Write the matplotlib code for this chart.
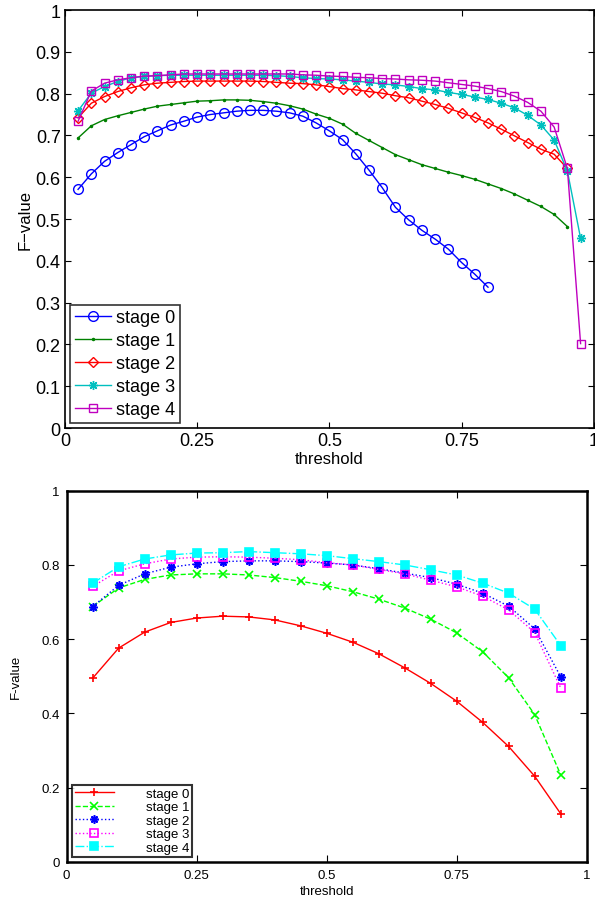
import matplotlib
matplotlib.use('Agg')
import matplotlib.pyplot as plt
import numpy as np

# top panel: thresholds 0.025 step
thr_top = np.arange(1, 40) * 0.025

top_s0 = [0.571, 0.608, 0.638, 0.659, 0.678, 0.697, 0.711, 0.725, 0.734, 0.744,
          0.750, 0.754, 0.758, 0.760, 0.760, 0.758, 0.754, 0.746, 0.730, 0.711,
          0.690, 0.656, 0.617, 0.575, 0.528, 0.498, 0.473, 0.452, 0.428, 0.396,
          0.368, 0.337]
top_s1 = [0.694, 0.723, 0.738, 0.747, 0.755, 0.763, 0.770, 0.774, 0.778, 0.782,
          0.783, 0.785, 0.785, 0.784, 0.781, 0.777, 0.771, 0.763, 0.751, 0.741,
          0.727, 0.705, 0.688, 0.671, 0.654, 0.642, 0.630, 0.621, 0.612, 0.604,
          0.595, 0.584, 0.573, 0.560, 0.545, 0.530, 0.511, 0.482]
top_s2 = [0.742, 0.777, 0.793, 0.805, 0.814, 0.821, 0.825, 0.827, 0.829, 0.830,
          0.830, 0.830, 0.830, 0.830, 0.829, 0.827, 0.825, 0.824, 0.821, 0.817,
          0.812, 0.809, 0.805, 0.801, 0.795, 0.790, 0.782, 0.774, 0.765, 0.754,
          0.743, 0.730, 0.715, 0.699, 0.683, 0.667, 0.655, 0.621]
top_s3 = [0.759, 0.801, 0.817, 0.829, 0.838, 0.841, 0.843, 0.844, 0.844, 0.844,
          0.844, 0.844, 0.844, 0.844, 0.844, 0.843, 0.841, 0.838, 0.836, 0.835,
          0.833, 0.830, 0.827, 0.823, 0.821, 0.817, 0.812, 0.809, 0.803, 0.798,
          0.792, 0.786, 0.777, 0.766, 0.748, 0.725, 0.689, 0.615, 0.454]
top_s4 = [0.734, 0.806, 0.825, 0.833, 0.838, 0.842, 0.843, 0.845, 0.847, 0.847,
          0.847, 0.847, 0.847, 0.847, 0.847, 0.847, 0.847, 0.845, 0.844, 0.842,
          0.841, 0.839, 0.838, 0.836, 0.835, 0.833, 0.832, 0.830, 0.826, 0.822,
          0.818, 0.812, 0.805, 0.794, 0.779, 0.758, 0.720, 0.621, 0.202]

# bottom panel: thresholds 0.05 step
thr_bot = np.arange(1, 20) * 0.05

bot_s0 = [0.495, 0.576, 0.619, 0.645, 0.657, 0.662, 0.660, 0.652, 0.636, 0.616,
          0.592, 0.561, 0.523, 0.481, 0.433, 0.376, 0.311, 0.231, 0.130]
bot_s1 = [0.688, 0.738, 0.761, 0.773, 0.776, 0.776, 0.773, 0.766, 0.756, 0.744,
          0.728, 0.708, 0.684, 0.654, 0.617, 0.566, 0.496, 0.397, 0.235]
bot_s2 = [0.688, 0.745, 0.776, 0.794, 0.803, 0.809, 0.811, 0.811, 0.809, 0.805,
          0.800, 0.790, 0.778, 0.766, 0.748, 0.724, 0.689, 0.628, 0.499]
bot_s3 = [0.742, 0.784, 0.803, 0.816, 0.821, 0.822, 0.821, 0.818, 0.814, 0.806,
          0.800, 0.788, 0.776, 0.759, 0.741, 0.716, 0.679, 0.618, 0.469]
bot_s4 = [0.751, 0.795, 0.816, 0.827, 0.832, 0.833, 0.836, 0.833, 0.830, 0.825,
          0.817, 0.809, 0.800, 0.787, 0.773, 0.751, 0.724, 0.681, 0.583]

labels = ['stage 0', 'stage 1', 'stage 2', 'stage 3', 'stage 4']
x_ticks = [0, 0.25, 0.5, 0.75, 1]
x_ticklabels = ['0', '0.25', '0.5', '0.75', '1']

plt.rcParams['font.family'] = ['Liberation Sans', 'DejaVu Sans']

fig = plt.figure(figsize=(5.95, 9.04), dpi=100)
asterisk = (8, 2, 0)

# ---- top ----
ax1 = fig.add_axes([0.109, 0.5254, 0.889, 0.4624])
top_data = [top_s0, top_s1, top_s2, top_s3, top_s4]
top_col = ['#0000ff', '#008000', '#ff0000', '#00bfbf', '#bf00bf']
top_mk = ['o', '.', 'D', asterisk, 's']
top_ms = [7, 3, 5.5, 6.5, 6]
for d, c, m, ms, lab in zip(top_data, top_col, top_mk, top_ms, labels):
    ax1.plot(thr_top[:len(d)], d, color=c, marker=m, markersize=ms,
             markerfacecolor=c if m == '.' else 'none', markeredgecolor=c,
             linewidth=1, markeredgewidth=1, label=lab)
ax1.set_xlim(0, 1)
ax1.set_ylim(0, 1)
ax1.set_xticks(x_ticks)
ax1.set_xticklabels(x_ticklabels)
ax1.set_yticks(np.arange(0, 11) / 10)
ax1.set_yticklabels(['0', '0.1', '0.2', '0.3', '0.4', '0.5', '0.6', '0.7', '0.8', '0.9', '1'])
ax1.tick_params(direction='in', top=True, right=True, labelsize=13, length=4, pad=3)
ax1.set_xlabel('threshold', fontsize=12, labelpad=1)
ax1.set_ylabel('F\u2212value', fontsize=12, labelpad=2)
for sp in ax1.spines.values():
    sp.set_linewidth(1.2)
leg1 = ax1.legend(loc='lower left', fontsize=13, frameon=True, fancybox=False,
                  edgecolor='black', borderpad=0.25, labelspacing=0.33,
                  handlelength=2.0, handletextpad=0.3, borderaxespad=0.3)
leg1.get_frame().set_linewidth(1.2)

# ---- bottom ----
ax2 = fig.add_axes([0.112, 0.0454, 0.874, 0.4107])
bot_data = [bot_s0, bot_s1, bot_s2, bot_s3, bot_s4]
bot_col = ['#ff0000', '#00ff00', '#0000ff', '#ff00ff', '#00ffff']
bot_mk = ['+', 'x', asterisk, 's', 's']
bot_ls = ['-', '--', ':', ':', '-.']
bot_fill = [True, True, True, False, True]
for d, c, m, ls, f, lab in zip(bot_data, bot_col, bot_mk, bot_ls, bot_fill, labels):
    ax2.plot(thr_bot, d, color=c, marker=m, linestyle=ls, linewidth=1,
             markersize=6, markerfacecolor=c if f else 'none',
             markeredgecolor=c, markeredgewidth=1.2, label=lab)
ax2.set_xlim(0, 1)
ax2.set_ylim(0, 1)
ax2.set_xticks(x_ticks)
ax2.set_xticklabels(x_ticklabels)
ax2.set_yticks([0, 0.2, 0.4, 0.6, 0.8, 1])
ax2.set_yticklabels(['0', '0.2', '0.4', '0.6', '0.8', '1'])
ax2.tick_params(direction='in', top=True, right=True, labelsize=9.5, length=5, pad=5)
ax2.set_xlabel('threshold', fontsize=9.5, labelpad=3)
ax2.set_ylabel('F-value', fontsize=9.5, labelpad=14)
for sp in ax2.spines.values():
    sp.set_linewidth(1.8)
leg2 = ax2.legend(loc='lower left', fontsize=9.5, frameon=True, fancybox=False,
                  edgecolor='black', borderpad=0.2, labelspacing=0.1,
                  handlelength=3.0, handletextpad=2.4, borderaxespad=0.4)
leg2.get_frame().set_linewidth(1.5)

fig.savefig('out.png', dpi=100)
